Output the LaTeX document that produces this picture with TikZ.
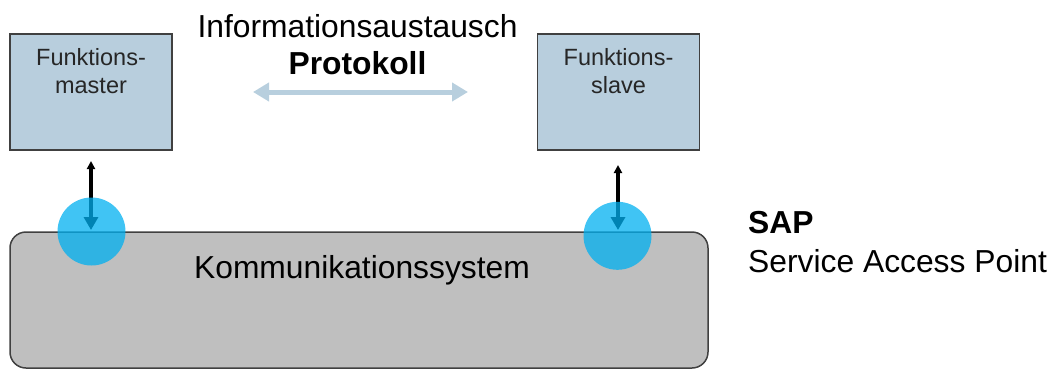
\documentclass[tikz,border=0pt]{standalone}
\usepackage{fontspec}
\setmainfont{Liberation Sans}
\usetikzlibrary{arrows.meta}
\definecolor{boxblue}{HTML}{B8CEDD}
\definecolor{edgegray}{HTML}{404040}
\definecolor{busgray}{HTML}{BFBFBF}
\definecolor{sapcyan}{HTML}{00B0F0}
\definecolor{protoblue}{HTML}{B8CFDE}
\tikzset{
  fbox/.style={draw=edgegray, line width=1.5pt, fill=boxblue, rectangle,
    minimum width=162pt, minimum height=116pt, inner sep=0pt},
  bus/.style={draw=edgegray, line width=1.5pt, fill=busgray, rectangle,
    rounded corners=16pt, minimum width=698pt, minimum height=136pt, inner sep=0pt},
  sap/.style={circle, fill=sapcyan, fill opacity=0.75, minimum size=68pt, inner sep=0pt},
  boxtext/.style={font=\fontsize{23.5}{28}\selectfont, align=center, inner sep=0pt, text=black!85},
  bigtext/.style={font=\fontsize{31.8}{36}\selectfont, inner sep=0pt, text=black},
  access/.style={line width=3.2pt, {Triangle[width=8pt,length=8pt]}-{Triangle[width=14pt,length=13pt]}},
  protocol/.style={draw=protoblue, line width=5pt, {Triangle[width=18pt,length=16pt]}-{Triangle[width=18pt,length=16pt]}}
}
\begin{document}
\begin{tikzpicture}[x=1pt, y=-1pt]
  \useasboundingbox (0,0) rectangle (1054,370);

  % communication system
  \node[bus] (bus) at (359,300) {};
  \node[bigtext, anchor=base] (bustext) at (362,278) {Kommunikationssystem};

  % function units (anchor=base sits on the last text line)
  \node[fbox] (master) at (91,92) {};
  \node[boxtext, anchor=base] (mastertext) at (91,93) {Funktions-\\master};
  \node[fbox] (slave) at (618.5,92) {};
  \node[boxtext, anchor=base] (slavetext) at (618.5,93) {Funktions-\\slave};

  % protocol between the function units
  \node[bigtext, anchor=base] (info) at (357.5,37) {Informationsaustausch};
  \node[bigtext, anchor=base, font=\fontsize{31.8}{36}\selectfont\bfseries] (proto) at (357.5,74) {Protokoll};
  \coordinate (pl) at (253,92);
  \coordinate (pr) at (468,92);
  \draw[protocol] (pl) -- (pr);

  % service access points
  \coordinate (mtop) at (91,161);
  \coordinate (mbot) at (91,230);
  \coordinate (stop) at (618,165);
  \coordinate (sbot) at (618,230);
  \draw[access] (mtop) -- (mbot);
  \draw[access] (stop) -- (sbot);
  \node[sap] (sapm) at (91.5,231.5) {};
  \node[sap] (saps) at (617.5,235.8) {};

  % legend
  \node[bigtext, anchor=base west, font=\fontsize{31.8}{36}\selectfont\bfseries] (sapabbr) at (748,233) {SAP};
  \node[bigtext, anchor=base west] (sapname) at (748,272) {Service Access Point};
\end{tikzpicture}
\end{document}
